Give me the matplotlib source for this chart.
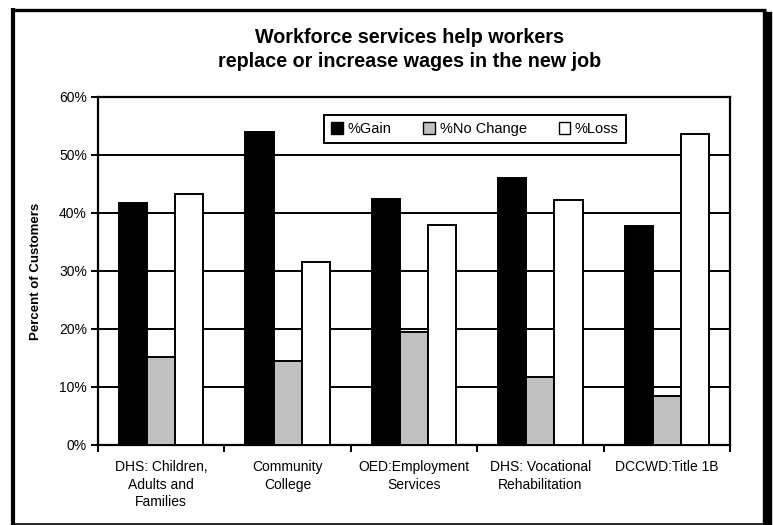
import matplotlib
matplotlib.use("Agg")
import matplotlib.pyplot as plt
import numpy as np
from matplotlib.patches import Rectangle
from matplotlib.lines import Line2D

plt.rcParams['font.family'] = ['Liberation Sans', 'DejaVu Sans']

categories = ["DHS: Children,\nAdults and\nFamilies", "Community\nCollege",
              "OED:Employment\nServices", "DHS: Vocational\nRehabilitation", "DCCWD:Title 1B"]
gain = [41.7, 53.9, 42.5, 46.1, 37.8]
no_change = [15.1, 14.5, 19.4, 11.7, 8.5]
loss = [43.3, 31.5, 38.0, 42.2, 53.6]
series_names = ["%Gain", "%No Change", "%Loss"]
series_colors = ["#000000", "#c0c0c0", "#ffffff"]
yticks = [0, 10, 20, 30, 40, 50, 60]

W, H = 773, 525
fig = plt.figure(figsize=(W / 100, H / 100), dpi=100)

# outer border with shadow
fig.add_artist(Line2D([13 / W, 13 / W], [0, 1 - 8.3 / H], color='black', lw=3.0,
                      solid_capstyle='butt', transform=fig.transFigure))
fig.add_artist(Line2D([11.5 / W, 766 / W], [1 - 9.5 / H, 1 - 9.5 / H], color='black', lw=2.4,
                      solid_capstyle='butt', transform=fig.transFigure))
fig.add_artist(Rectangle((763 / W, 0), 8 / W, 1 - 11.5 / H, color='black', transform=fig.transFigure))
fig.add_artist(Line2D([11.5 / W, 766 / W], [0.8 / H, 0.8 / H], color='black', lw=1.2,
                      solid_capstyle='butt', transform=fig.transFigure))

ax = fig.add_axes([98 / W, (H - 445) / H, 632 / W, 348 / H])

x = np.arange(len(categories))
bw = 1 / 4.5
data = [gain, no_change, loss]
for i, (vals, c, name) in enumerate(zip(data, series_colors, series_names)):
    ax.bar(x + (i - 1) * bw, vals, width=bw, color=c, edgecolor='black', linewidth=1.4,
           label=name, zorder=3)

ax.set_xlim(-0.5, len(categories) - 0.5)
ax.set_ylim(0, 60)
ax.set_yticks(yticks)
ax.set_yticklabels([f"{v}%" for v in yticks], fontsize=10)
ax.yaxis.grid(True, color='black', linewidth=1.4, zorder=0)
ax.set_axisbelow(True)

ax.set_xticks(x)
ax.set_xticklabels(categories, fontsize=10, linespacing=1.32)
ax.tick_params(axis='x', which='major', length=0, pad=11)
ax.set_xticks(np.arange(-0.5, len(categories)), minor=True)
ax.tick_params(axis='x', which='minor', length=5, width=1.4, direction='out')
ax.tick_params(axis='y', length=5, width=1.4, direction='out', pad=3)
for s in ax.spines.values():
    s.set_linewidth(1.6)
    s.set_color('black')

ax.set_ylabel("Percent of Customers", fontsize=9.5, fontweight='bold', labelpad=12)

leg = ax.legend(loc='center', bbox_to_anchor=((475 - 98) / 632, (445 - 129) / 348), ncol=3,
                fontsize=10.5, frameon=True, fancybox=False, edgecolor='black',
                handlelength=0.8, handleheight=0.8, handletextpad=0.3, columnspacing=2.2,
                borderpad=0.5)
leg.get_frame().set_linewidth(1.4)
leg.get_frame().set_alpha(1)
for h in leg.legend_handles:
    h.set_linewidth(1.0)

fig.text(410 / W, 1 - 43 / H, "Workforce services help workers", ha='center', va='baseline',
         fontsize=14.2, fontweight='bold')
fig.text(410 / W, 1 - 67 / H, "replace or increase wages in the new job", ha='center', va='baseline',
         fontsize=14.2, fontweight='bold')

fig.savefig("out.png", dpi=100)
